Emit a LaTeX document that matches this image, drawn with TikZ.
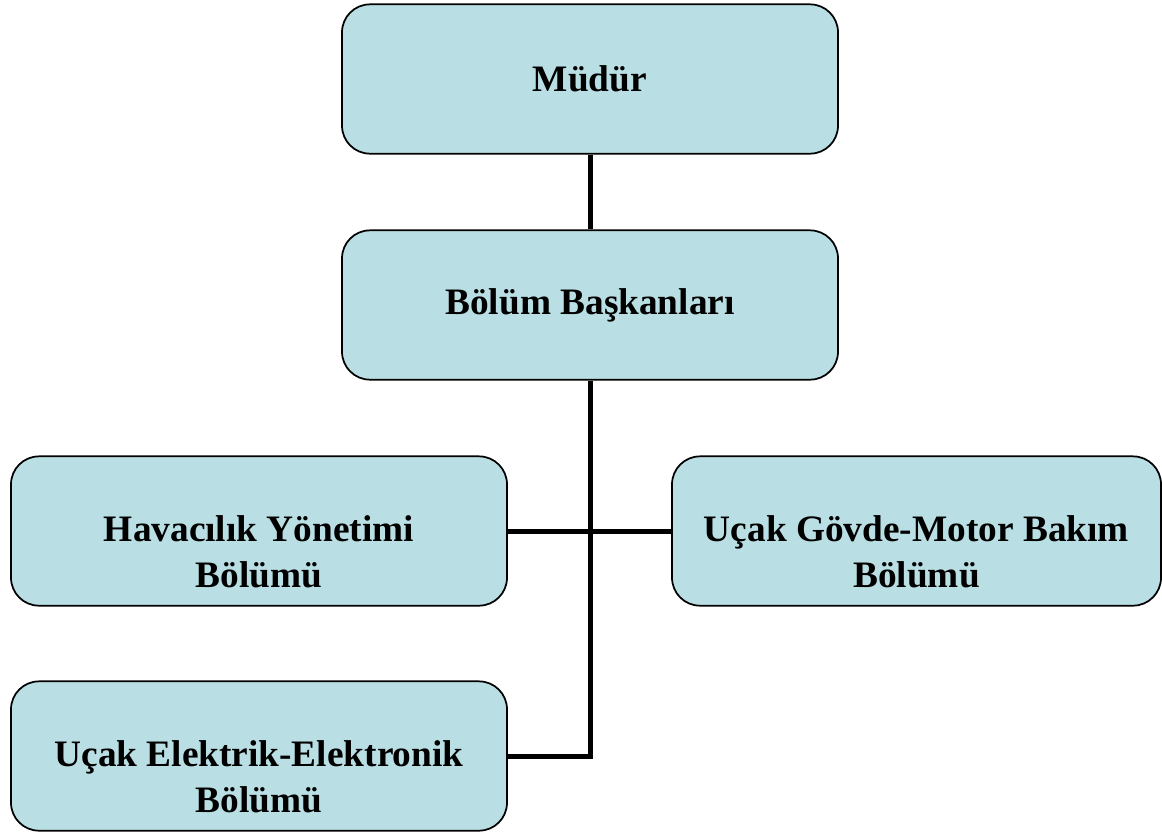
\documentclass[tikz,border=0pt]{standalone}
\usepackage{fontspec}
\setmainfont{Liberation Serif}
\definecolor{boxblue}{RGB}{185,223,228}
\begin{document}
\begin{tikzpicture}[x=0.75pt, y=-0.75pt,
  unit/.style={draw, line width=1.3pt, fill=boxblue, rounded corners=21pt,
    minimum width=372pt, minimum height=112pt, inner sep=0pt},
  unittext/.style={align=center, inner sep=0pt, font=\bfseries\fontsize{28}{34}\selectfont},
  link/.style={line width=3.75pt}]
  \useasboundingbox (0,0) rectangle (1162,833);
  % top boxes
  \node[unit, unittext] (mudur) at (590,79) {M\"ud\"ur};
  \node[unit, unittext] (baskan) at (590,305) {B\"ol\"um Ba\c{s}kanlar\i};
  % departments
  \node[unit] (hav) at (259,531) {};
  \node[unit, minimum width=366.75pt] (govde) at (916.5,531) {};
  \node[unit] (elek) at (259,756) {};
  \node[unittext] (havtext) at ([yshift=-15.5pt]hav.center) {Havac\i l\i k Y\"onetimi\\B\"ol\"um\"u};
  \node[unittext] (govdetext) at ([yshift=-15.5pt]govde.center) {U\c{c}ak G\"ovde-Motor Bak\i m\\B\"ol\"um\"u};
  \node[unittext] (elektext) at ([yshift=-15.5pt]elek.center) {U\c{c}ak Elektrik-Elektronik\\B\"ol\"um\"u};
  % connectors
  \draw[link] (mudur) -- (baskan);
  \draw[link] (baskan.south) |- (elek.east);
  \draw[link] (hav.east) -- (govde.west);
\end{tikzpicture}
\end{document}
